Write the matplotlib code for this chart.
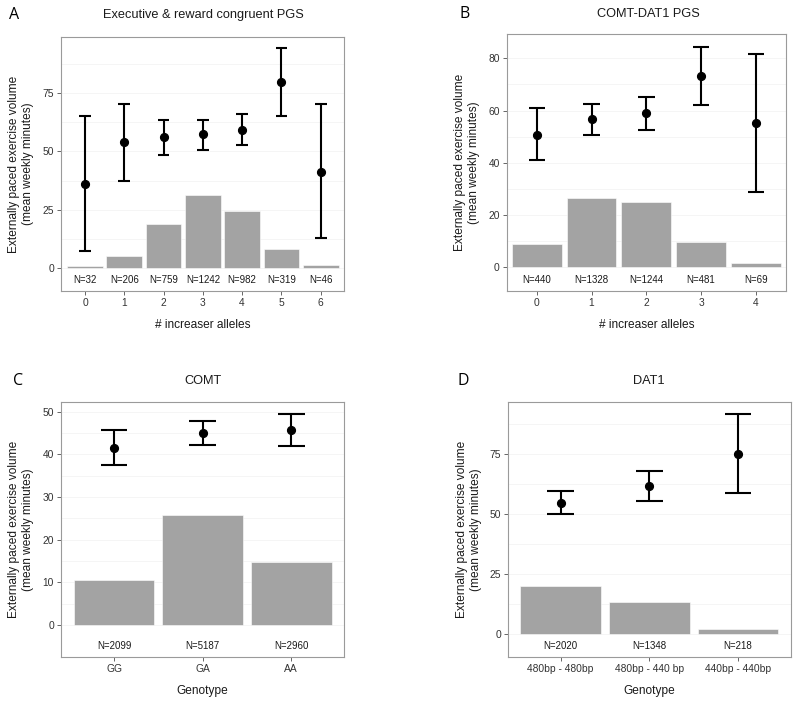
import numpy as np
import matplotlib.pyplot as plt

plt.rcParams['font.family'] = ['Liberation Sans', 'DejaVu Sans']

# Panel A: Executive & reward congruent PGS
a_cats = ['0', '1', '2', '3', '4', '5', '6']
a_n = ['N=32', 'N=206', 'N=759', 'N=1242', 'N=982', 'N=319', 'N=46']
a_bars = [0.8, 5.2, 19.0, 31.1, 24.6, 8.0, 1.2]
a_mean = [36.2, 53.9, 56.0, 57.2, 59.3, 79.8, 41.3]
a_low = [7.5, 37.4, 48.5, 50.7, 52.6, 65.3, 12.7]
a_high = [65.0, 70.2, 63.5, 63.5, 66.0, 94.3, 70.2]

# Panel B: COMT-DAT1 PGS
b_cats = ['0', '1', '2', '3', '4']
b_n = ['N=440', 'N=1328', 'N=1244', 'N=481', 'N=69']
b_bars = [8.8, 26.6, 24.9, 9.6, 1.4]
b_mean = [50.8, 56.6, 58.9, 73.3, 55.1]
b_low = [40.9, 50.6, 52.6, 62.2, 28.7]
b_high = [60.8, 62.5, 65.0, 84.4, 81.7]

# Panel C: COMT
c_cats = ['GG', 'GA', 'AA']
c_n = ['N=2099', 'N=5187', 'N=2960']
c_bars = [10.5, 25.9, 14.8]
c_mean = [41.6, 45.0, 45.6]
c_low = [37.6, 42.3, 41.9]
c_high = [45.8, 47.8, 49.5]

# Panel D: DAT1
d_cats = ['480bp - 480bp', '480bp - 440 bp', '440bp - 440bp']
d_n = ['N=2020', 'N=1348', 'N=218']
d_bars = [20.2, 13.5, 2.3]
d_mean = [54.9, 61.9, 75.3]
d_low = [50.1, 55.7, 58.9]
d_high = [59.7, 68.1, 91.9]

ylab = 'Externally paced exercise volume\n(mean weekly minutes)'

fig = plt.figure(figsize=(8, 7.04), dpi=100)


def panel(rect, cats, n, bars, mean, low, high, xlim, ylim, yticks,
          title, letter, letter_xy, title_x, xlabel):
    ax = fig.add_axes(rect)
    x = np.arange(len(cats))
    # faint ggplot-like horizontal grid (major + minor)
    step = yticks[1] - yticks[0]
    minors = np.arange(yticks[0] + step / 2, ylim[1], step)
    for y in list(yticks) + list(minors):
        ax.axhline(y, color='#F4F4F4', lw=0.6, zorder=0)
    ax.bar(x, bars, width=0.91, color='#A3A3A3', edgecolor='white',
           linewidth=0.4, zorder=2)
    ax.vlines(x, low, high, color='black', lw=1.5, zorder=3)
    ax.hlines(low, x - 0.15, x + 0.15, color='black', lw=1.5, zorder=3)
    ax.hlines(high, x - 0.15, x + 0.15, color='black', lw=1.5, zorder=3)
    ax.plot(x, mean, 'o', color='black', ms=5.6, zorder=4)
    for xi, lab in zip(x, n):
        ax.text(xi, -5, lab, ha='center', va='center', fontsize=7,
                color='#1A1A1A')
    ax.set_xlim(*xlim)
    ax.set_ylim(*ylim)
    ax.set_xticks(x)
    ax.set_xticklabels(cats)
    ax.set_yticks(yticks)
    ax.tick_params(labelsize=7.4, colors='#4D4D4D', length=3, width=0.6,
                   labelcolor='#333333', pad=2)
    for s in ax.spines.values():
        s.set_color('#9A9A9A')
        s.set_linewidth(0.8)
    ax.set_ylabel(ylab, fontsize=8.6, color='#1A1A1A', labelpad=6)
    ax.set_xlabel(xlabel, fontsize=8.6, color='#1A1A1A', labelpad=8)
    fig.text(title_x, letter_xy[1], title, ha='center', va='center',
             fontsize=9.2, color='#1A1A1A')
    fig.text(letter_xy[0], letter_xy[1], letter, ha='center', va='center',
             fontsize=11.5, family='Open Sans', color='black')
    return ax


panel([0.0763, 0.5866, 0.354, 0.3608], a_cats, a_n, a_bars, a_mean, a_low,
      a_high, (-0.61, 6.6), (-9.8, 98.9), [0, 25, 50, 75],
      'Executive & reward congruent PGS', 'A', (0.018, 1 - 15 / 704),
      0.254, '# increaser alleles')
panel([0.6334, 0.5866, 0.349, 0.3646], b_cats, b_n, b_bars, b_mean, b_low,
      b_high, (-0.55, 4.55), (-9.2, 89.2), [0, 20, 40, 60, 80],
      'COMT-DAT1 PGS', 'B', (0.581, 1 - 14 / 704),
      0.811, '# increaser alleles')
panel([0.0763, 0.0672, 0.3542, 0.3614], c_cats, c_n, c_bars, c_mean, c_low,
      c_high, (-0.6, 2.6), (-7.4, 52.2), [0, 10, 20, 30, 40, 50],
      'COMT', 'C', (0.023, 1 - 381 / 704),
      0.254, 'Genotype')
panel([0.6354, 0.0672, 0.3534, 0.3614], d_cats, d_n, d_bars, d_mean, d_low,
      d_high, (-0.59, 2.6), (-9.3, 96.7), [0, 25, 50, 75],
      'DAT1', 'D', (0.579, 1 - 381 / 704),
      0.811, 'Genotype')

fig.savefig('out.png', dpi=100, facecolor='white')
